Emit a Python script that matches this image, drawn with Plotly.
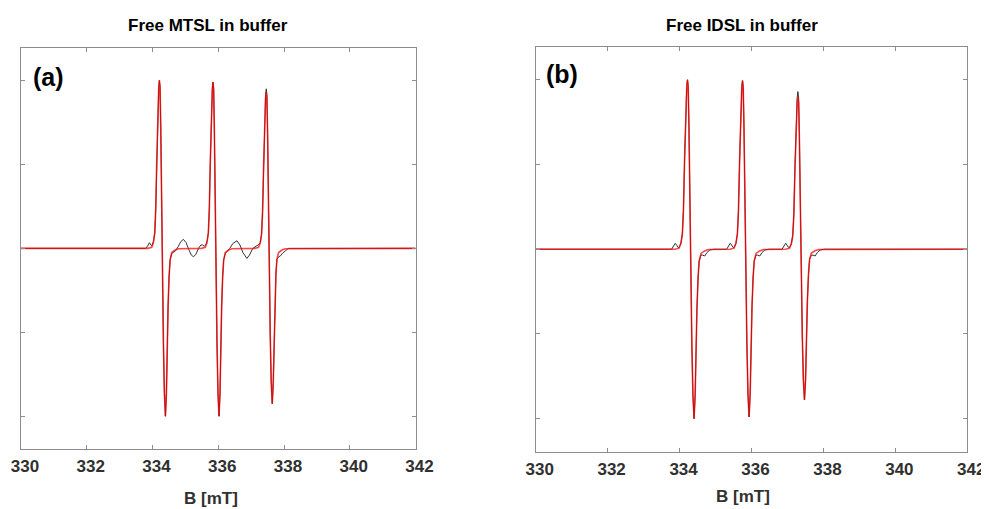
import plotly.graph_objects as go

# ---------------- data ----------------
# Free MTSL in buffer: experimental (black) and simulated (red) spectra
B_mtsl_exp = [330.0, 333.80, 333.87, 333.905, 333.95, 333.98, 334.027, 334.068, 334.098, 334.129,
              334.159, 334.19, 334.21, 334.23, 334.251, 334.271, 334.291, 334.311, 334.332, 334.362,
              334.393, 334.423, 334.443, 334.474, 334.504, 334.535, 334.585, 334.64, 334.70, 334.78,
              334.86, 334.94, 335.02, 335.10, 335.18, 335.25, 335.32, 335.40, 335.47, 335.53,
              335.57, 335.61, 335.657, 335.698, 335.728, 335.759, 335.789, 335.82, 335.84, 335.86,
              335.881, 335.901, 335.921, 335.941, 335.962, 335.992, 336.023, 336.053, 336.073, 336.104,
              336.134, 336.165, 336.215, 336.27, 336.35, 336.45, 336.57, 336.66, 336.75, 336.87,
              336.95, 337.05, 337.13, 337.20, 337.25, 337.277, 337.318, 337.348, 337.379, 337.409,
              337.44, 337.46, 337.48, 337.501, 337.521, 337.541, 337.561, 337.582, 337.612, 337.643,
              337.673, 337.693, 337.724, 337.754, 337.785, 337.835, 337.89, 337.95, 338.04, 338.14,
              342.0]
I_mtsl_exp = [0, 0, 0.04, 0.067, 0.04, 0.03, 0.08, 0.18, 0.46, 1.05,
              1.65, 1.92, 2.0, 1.92, 1.45, 0.65, 0, -0.54, -1.13, -1.73,
              -2.0, -1.73, -1.25, -0.69, -0.34, -0.14, -0.06, -0.05, -0.03, 0.02,
              0.08, 0.107, 0.07, -0.01, -0.08, -0.10, -0.07, 0.0, 0.04, 0.04,
              0.025, 0.035, 0.08, 0.18, 0.46, 1.04, 1.63, 1.9, 1.98, 1.9,
              1.43, 0.64, 0, -0.54, -1.13, -1.73, -2.0, -1.73, -1.25, -0.69,
              -0.34, -0.14, -0.06, -0.04, 0.0, 0.06, 0.09, 0.04, -0.05, -0.12,
              -0.08, 0.0, 0.02, 0.03, 0.05, 0.07, 0.17, 0.44, 1.0, 1.57,
              1.83, 1.90, 1.83, 1.38, 0.61, 0, -0.5, -1.05, -1.6, -1.85,
              -1.6, -1.16, -0.64, -0.31, -0.13, -0.1, -0.09, -0.06, -0.03, 0,
              0]

B_mtsl_sim = [330.0,
              333.86, 333.976, 334.027, 334.068, 334.098, 334.129, 334.159, 334.19, 334.21, 334.23,
              334.251, 334.271, 334.291, 334.311, 334.332, 334.362, 334.393, 334.423, 334.443, 334.474,
              334.504, 334.535, 334.585, 334.687, 334.789,
              335.49, 335.606, 335.657, 335.698, 335.728, 335.759, 335.789, 335.82, 335.84, 335.86,
              335.881, 335.901, 335.921, 335.941, 335.962, 335.992, 336.023, 336.053, 336.073, 336.104,
              336.134, 336.165, 336.215, 336.317, 336.419,
              337.11, 337.226, 337.277, 337.318, 337.348, 337.379, 337.409, 337.44, 337.46, 337.48,
              337.501, 337.521, 337.541, 337.561, 337.582, 337.612, 337.643, 337.673, 337.693, 337.724,
              337.754, 337.785, 337.835, 337.937, 338.039,
              342.0]
I_mtsl_sim = [0,
              0, 0.012, 0.067, 0.18, 0.46, 1.05, 1.65, 1.92, 2.0, 1.92,
              1.45, 0.65, 0, -0.54, -1.13, -1.73, -2.0, -1.73, -1.25, -0.69,
              -0.34, -0.14, -0.05, -0.02, -0.004,
              0, 0.012, 0.066, 0.18, 0.46, 1.04, 1.63, 1.9, 1.98, 1.9,
              1.43, 0.64, 0, -0.54, -1.13, -1.73, -2.0, -1.73, -1.25, -0.69,
              -0.34, -0.14, -0.05, -0.02, -0.004,
              0, 0.011, 0.062, 0.17, 0.43, 0.98, 1.53, 1.79, 1.86, 1.79,
              1.35, 0.6, 0, -0.5, -1.05, -1.6, -1.85, -1.6, -1.16, -0.64,
              -0.31, -0.13, -0.05, -0.02, -0.004,
              0]

# Free IDSL in buffer
B_idsl_exp = [330.0,
              333.78, 333.85, 333.88, 333.93, 333.96, 333.986, 334.037, 334.078, 334.108, 334.139,
              334.169, 334.20, 334.22, 334.24, 334.261, 334.281, 334.301, 334.321, 334.342, 334.372,
              334.403, 334.433, 334.453, 334.484, 334.514, 334.545, 334.595, 334.64, 334.70, 334.76,
              334.84, 334.95,
              335.31, 335.38, 335.41, 335.46, 335.49, 335.516, 335.567, 335.608, 335.638, 335.669,
              335.699, 335.73, 335.75, 335.77, 335.791, 335.811, 335.831, 335.851, 335.872, 335.902,
              335.933, 335.963, 335.983, 336.014, 336.044, 336.075, 336.125, 336.17, 336.23, 336.29,
              336.37, 336.48,
              336.85, 336.92, 336.95, 337.0, 337.03, 337.056, 337.107, 337.148, 337.178, 337.209,
              337.239, 337.27, 337.29, 337.31, 337.331, 337.351, 337.371, 337.391, 337.412, 337.442,
              337.473, 337.503, 337.523, 337.554, 337.584, 337.615, 337.665, 337.71, 337.77, 337.83,
              337.91, 338.02,
              342.0]
I_idsl_exp = [0,
              0, 0.05, 0.07, 0.04, 0.02, 0.02, 0.07, 0.18, 0.46, 1.05,
              1.65, 1.92, 2.0, 1.92, 1.45, 0.65, 0, -0.54, -1.13, -1.73,
              -2.0, -1.73, -1.25, -0.69, -0.34, -0.14, -0.07, -0.07, -0.08, -0.04,
              -0.01, 0,
              0, 0.05, 0.07, 0.04, 0.02, 0.02, 0.07, 0.18, 0.46, 1.04,
              1.64, 1.91, 1.99, 1.91, 1.44, 0.65, 0, -0.53, -1.12, -1.71,
              -1.98, -1.71, -1.24, -0.68, -0.34, -0.14, -0.07, -0.07, -0.08, -0.04,
              -0.01, 0,
              0, 0.05, 0.07, 0.04, 0.02, 0.02, 0.062, 0.17, 0.43, 0.98,
              1.54, 1.79, 1.86, 1.79, 1.35, 0.6, 0, -0.48, -1.01, -1.54,
              -1.78, -1.54, -1.11, -0.61, -0.30, -0.12, -0.07, -0.07, -0.08, -0.04,
              -0.01, 0,
              0]

B_idsl_sim = [330.0,
              333.87, 333.986, 334.037, 334.078, 334.108, 334.139, 334.169, 334.20, 334.22, 334.24,
              334.261, 334.281, 334.301, 334.321, 334.342, 334.372, 334.403, 334.433, 334.453, 334.484,
              334.514, 334.545, 334.595, 334.697, 334.799,
              335.40, 335.516, 335.567, 335.608, 335.638, 335.669, 335.699, 335.73, 335.75, 335.77,
              335.791, 335.811, 335.831, 335.851, 335.872, 335.902, 335.933, 335.963, 335.983, 336.014,
              336.044, 336.075, 336.125, 336.227, 336.329,
              336.94, 337.056, 337.107, 337.148, 337.178, 337.209, 337.239, 337.27, 337.29, 337.31,
              337.331, 337.351, 337.371, 337.391, 337.412, 337.442, 337.473, 337.503, 337.523, 337.554,
              337.584, 337.615, 337.665, 337.767, 337.869,
              342.0]
I_idsl_sim = [0,
              0, 0.012, 0.067, 0.18, 0.46, 1.05, 1.65, 1.92, 2.0, 1.92,
              1.45, 0.65, 0, -0.54, -1.13, -1.73, -2.0, -1.73, -1.25, -0.69,
              -0.34, -0.14, -0.05, -0.02, -0.004,
              0, 0.012, 0.067, 0.18, 0.46, 1.04, 1.64, 1.91, 1.99, 1.91,
              1.44, 0.65, 0, -0.53, -1.12, -1.71, -1.98, -1.71, -1.24, -0.68,
              -0.34, -0.14, -0.05, -0.02, -0.004,
              0, 0.011, 0.06, 0.16, 0.41, 0.95, 1.49, 1.73, 1.80, 1.73,
              1.31, 0.59, 0, -0.48, -1.01, -1.54, -1.78, -1.54, -1.11, -0.61,
              -0.30, -0.12, -0.045, -0.018, -0.004,
              0]

x_ticks = [330, 332, 334, 336, 338, 340, 342]
y_ticks = [-2, -1, 0, 1, 2]
panel_titles = ["Free MTSL in buffer", "Free IDSL in buffer"]
panel_labels = ["(a)", "(b)"]
x_title = "B [mT]"

for a, b in [(B_mtsl_exp, I_mtsl_exp), (B_mtsl_sim, I_mtsl_sim),
             (B_idsl_exp, I_idsl_exp), (B_idsl_sim, I_idsl_sim)]:
    assert len(a) == len(b), (len(a), len(b))

# ---------------- figure ----------------
# The page body has an 8 px margin, so the figure is made 8 px smaller and
# every page-pixel position below is measured in the 989x509 window.
OFF = 8
W, H = 989 - OFF, 509 - OFF
FONT = "Arial, Liberation Sans, sans-serif"
exp_line = dict(color="#333333", width=1.0)
sim_line = dict(color="rgba(255,0,0,0.72)", width=1.6)

fig = go.Figure()
fig.add_trace(go.Scatter(x=B_mtsl_exp, y=I_mtsl_exp, mode="lines", line=exp_line,
                         xaxis="x", yaxis="y", showlegend=False))
fig.add_trace(go.Scatter(x=B_mtsl_sim, y=I_mtsl_sim, mode="lines", line=sim_line,
                         xaxis="x", yaxis="y", showlegend=False))
fig.add_trace(go.Scatter(x=B_idsl_exp, y=I_idsl_exp, mode="lines", line=exp_line,
                         xaxis="x2", yaxis="y2", showlegend=False))
fig.add_trace(go.Scatter(x=B_idsl_sim, y=I_idsl_sim, mode="lines", line=sim_line,
                         xaxis="x2", yaxis="y2", showlegend=False))

axis_common = dict(showline=True, linecolor="#8c8c8c", linewidth=1, mirror="ticks",
                   ticks="inside", ticklen=4, tickcolor="#8c8c8c", showgrid=False,
                   zeroline=False, fixedrange=True, automargin=False)
xax = dict(axis_common, range=[330, 342], tickvals=x_ticks,
           tickfont=dict(family=FONT, size=17, color="#303030", weight="bold"),
           ticklabelstandoff=2, ticklabelshift=4)
yax = dict(axis_common, range=[-2.39, 2.39], tickvals=y_ticks, showticklabels=False)


def px_x(x):
    return (x - OFF) / W


def px_y(y):
    return 1 - (y - OFF) / H


fig.update_layout(
    template="none",
    width=W, height=H,
    margin=dict(l=0, r=0, t=0, b=0, pad=0, autoexpand=False),
    paper_bgcolor="white", plot_bgcolor="white",
    xaxis=dict(xax, domain=[px_x(21), px_x(415.5)], anchor="y"),
    yaxis=dict(yax, domain=[px_y(449), px_y(47.7)], anchor="x"),
    xaxis2=dict(xax, domain=[px_x(535.7), px_x(967.3)], anchor="y2"),
    yaxis2=dict(yax, domain=[px_y(451.7), px_y(46.7)], anchor="x2"),
    font=dict(family=FONT),
)

ann = []
ann.append(dict(text="<b>%s</b>" % panel_titles[0], x=px_x(207.5), y=px_y(25.5),
                font=dict(size=17, color="black")))
ann.append(dict(text="<b>%s</b>" % panel_titles[1], x=px_x(742), y=px_y(25.5),
                font=dict(size=17, color="black")))
ann.append(dict(text="<b>%s</b>" % panel_labels[0], x=px_x(48.5), y=px_y(77),
                font=dict(size=25, color="black")))
ann.append(dict(text="<b>%s</b>" % panel_labels[1], x=px_x(561.5), y=px_y(74),
                font=dict(size=25, color="black")))
ann.append(dict(text="<b>%s</b>" % x_title, x=px_x(211), y=px_y(498),
                font=dict(size=17, color="#303030")))
ann.append(dict(text="<b>%s</b>" % x_title, x=px_x(743), y=px_y(496),
                font=dict(size=17, color="#303030")))
for a in ann:
    a.update(xref="paper", yref="paper", xanchor="center", yanchor="middle",
             showarrow=False)
fig.update_layout(annotations=ann)

fig.write_html("out.html")
